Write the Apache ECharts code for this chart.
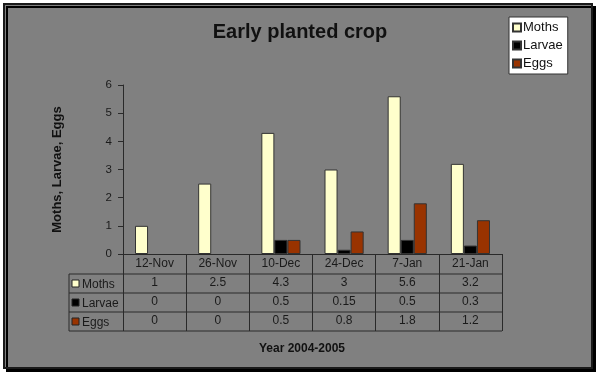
<!DOCTYPE html>
<html>
<head>
<meta charset="utf-8">
<script src="https://cdn.jsdelivr.net/npm/echarts@6/dist/echarts.min.js"></script>
<style>
  html, body { margin: 0; padding: 0; background: #fff; }
  #chart { width: 600px; height: 377px; }
</style>
</head>
<body>
<div id="chart"></div>
<script>
// data
const dates = ['12-Nov', '26-Nov', '10-Dec', '24-Dec', '7-Jan', '21-Jan'];
const moths = [1, 2.5, 4.3, 3, 5.6, 3.2];
const larvae = [0, 0, 0.5, 0.15, 0.5, 0.3];
const eggs = [0, 0, 0.5, 0.8, 1.8, 1.2];
const yTicks = [0, 1, 2, 3, 4, 5, 6];

const FONT = 'Arial, "Liberation Sans", sans-serif';
const TXT = '#1a1a1a';
const colors = { Moths: '#FFFFCC', Larvae: '#000000', Eggs: '#993300' };
const rows = [
  { name: 'Moths', data: moths },
  { name: 'Larvae', data: larvae },
  { name: 'Eggs', data: eggs }
];

const grid = { left: 123, right: 98, top: 85, bottom: 123 };
const axisY = 377 - grid.bottom;   // 254
const rowH = 19;
const headH = 20;

// one extra bottom axis per table row, showing that row's values
const rowAxes = rows.map((r, i) => ({
  type: 'category',
  gridIndex: 0,
  position: 'bottom',
  offset: headH + i * rowH,
  data: r.data.map(String),
  axisLine: { show: false },
  axisTick: { show: false },
  axisLabel: { margin: 3, fontSize: 12, color: TXT, fontFamily: FONT, interval: 0 }
}));

// row header cells of the table (legend key + name)
const tableGraphics = [];
const tableLeft = 69;
const tableRight = 600 - grid.right;
rows.forEach((r, i) => {
  const top = axisY + headH + i * rowH;
  tableGraphics.push({
    type: 'rect', shape: { x: 72, y: top + 6, width: 7, height: 7 },
    style: { fill: colors[r.name], stroke: '#222', lineWidth: 1 }, z: 5
  });
  tableGraphics.push({
    type: 'text', x: 82, y: top + rowH / 2 + 1,
    style: { text: r.name, font: '12px ' + FONT, fill: TXT, verticalAlign: 'middle' }, z: 5
  });
});
// horizontal rules of the table
for (let i = 0; i <= rows.length; i++) {
  const y = axisY + headH + i * rowH;
  tableGraphics.push({
    type: 'line', shape: { x1: tableLeft, y1: y, x2: tableRight, y2: y },
    style: { stroke: '#2a2a2a', lineWidth: 1 }, z: 5
  });
}
// left edge of row-name column
tableGraphics.push({
  type: 'line',
  shape: { x1: tableLeft, y1: axisY + headH, x2: tableLeft, y2: axisY + headH + rows.length * rowH },
  style: { stroke: '#2a2a2a', lineWidth: 1 }, z: 5
});

const option = {
  backgroundColor: '#ffffff',
  animation: false,
  textStyle: { fontFamily: FONT },
  title: {
    text: 'Early planted crop',
    left: 'center',
    top: 17,
    textStyle: { fontSize: 20, fontWeight: 'bold', color: '#111', fontFamily: FONT }
  },
  legend: {
    orient: 'vertical',
    left: 509,
    top: 17,
    width: 60,
    padding: [4, 5, 4, 3],
    itemGap: 5,
    itemWidth: 8,
    itemHeight: 8,
    icon: 'rect',
    backgroundColor: '#ffffff',
    borderColor: '#333',
    borderWidth: 1,
    borderRadius: 0,
    textStyle: { fontSize: 13, color: '#111', fontFamily: FONT, padding: [0, 0, 0, -3] },
    data: rows.map(r => r.name)
  },
  grid: grid,
  xAxis: [
    {
      type: 'category',
      data: dates,
      axisLine: { show: true, lineStyle: { color: '#2a2a2a', width: 1 } },
      axisTick: {
        show: true, interval: 0, inside: false,
        length: headH + rows.length * rowH,
        lineStyle: { color: '#2a2a2a', width: 1 }
      },
      axisLabel: { margin: 4, fontSize: 12, color: TXT, fontFamily: FONT, interval: 0 },
      splitLine: { show: false }
    },
    ...rowAxes
  ],
  yAxis: {
    type: 'value',
    min: yTicks[0],
    max: yTicks[yTicks.length - 1],
    interval: 1,
    name: 'Moths, Larvae, Eggs',
    nameLocation: 'middle',
    nameGap: 59,
    nameTextStyle: { fontSize: 13, fontWeight: 'bold', color: '#111', fontFamily: FONT },
    axisLine: { show: true, lineStyle: { color: '#2a2a2a', width: 1 } },
    axisTick: { show: true, length: 5, lineStyle: { color: '#2a2a2a' } },
    axisLabel: { fontSize: 11.5, color: TXT, margin: 11, fontFamily: FONT },
    splitLine: { show: false }
  },
  series: rows.map(r => ({
    name: r.name,
    type: 'bar',
    // zero-height bars carry no outline, as in the picture
    data: r.data.map(v => (v === 0 ? { value: v, itemStyle: { borderWidth: 0 } } : v)),
    barGap: '0%',
    barCategoryGap: '38%',
    itemStyle: { color: colors[r.name], borderColor: '#333', borderWidth: 1 }
  })),
  graphic: [
    {
      type: 'rect', z: -10,
      shape: { x: 4, y: 4, width: 588, height: 364 },
      style: {
        fill: '#808080', stroke: '#1a1a1a', lineWidth: 2,
        shadowColor: '#000', shadowOffsetX: 3, shadowOffsetY: 3, shadowBlur: 0
      }
    },
    {
      type: 'text', x: 302, y: 349, z: 5,
      style: {
        text: 'Year 2004-2005', font: 'bold 12px ' + FONT, fill: '#111',
        align: 'center', verticalAlign: 'middle'
      }
    },
    ...tableGraphics
  ]
};

const chart = echarts.init(document.getElementById('chart'), null, { renderer: 'canvas' });
chart.setOption(option);
</script>
</body>
</html>
